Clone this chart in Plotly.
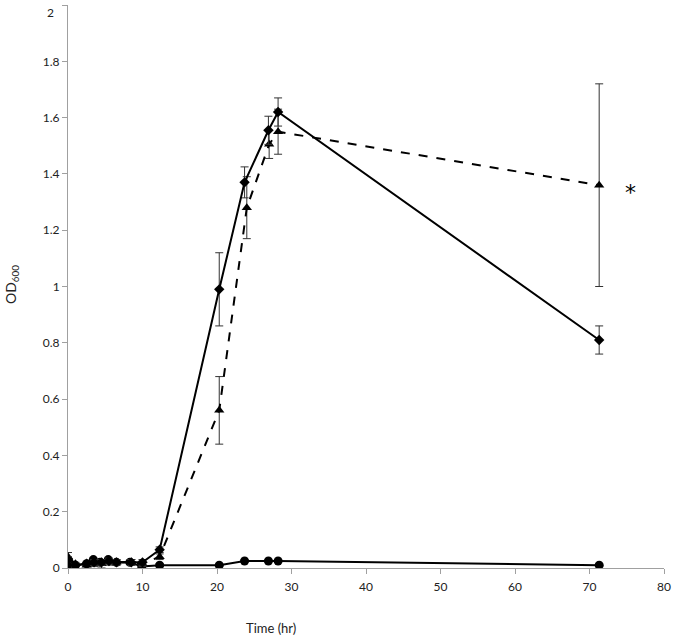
import plotly.graph_objects as go

# Series 1: solid line, diamonds
t1 = [0, 1, 2.5, 3.5, 4.5, 5.5, 6.5, 8.5, 10, 12.3, 20.3, 23.7, 26.9, 28.2, 71.3]
y1 = [0.03, 0.01, 0.015, 0.02, 0.02, 0.025, 0.02, 0.02, 0.02, 0.065, 0.99, 1.37, 1.555, 1.62, 0.81]
e1 = [0.01, 0.005, 0.005, 0.01, 0.01, 0.01, 0.01, 0.01, 0.01, 0.01, 0.13, 0.055, 0.05, 0.05, 0.05]

# Series 2: dashed line, triangles
t2 = [0, 1, 2.5, 3.5, 4.5, 5.5, 6.5, 8.5, 10, 12.3, 20.3, 24.0, 27.0, 28.2, 71.3]
y2 = [0.04, 0.015, 0.01, 0.015, 0.015, 0.02, 0.02, 0.02, 0.015, 0.04, 0.56, 1.28, 1.505, 1.55, 1.36]
e2 = [0.015, 0.005, 0.005, 0.01, 0.015, 0.01, 0.01, 0.01, 0.01, 0.01, 0.12, 0.11, 0.05, 0.08, 0.36]

# Series 3: solid line, circles
t3 = [0, 1, 2.5, 3.4, 4.3, 5.4, 6.5, 8.3, 9.9, 12.3, 20.3, 23.7, 26.9, 28.2, 71.3]
y3 = [0.01, 0.01, 0.015, 0.03, 0.02, 0.03, 0.02, 0.02, 0.005, 0.01, 0.01, 0.025, 0.025, 0.025, 0.01]
e3 = [0.005, 0.005, 0.005, 0.005, 0.005, 0.005, 0.005, 0.005, 0.005, 0.005, 0.003, 0.003, 0.003, 0.003, 0.003]

x_ticks = [0, 10, 20, 30, 40, 50, 60, 70, 80]
y_ticks = [0, 0.2, 0.4, 0.6, 0.8, 1, 1.2, 1.4, 1.6, 1.8, 2]
y_tick_text = ["0", "0.2", "0.4", "0.6", "0.8", "1", "1.2", "1.4", "1.6", "1.8", ""]
y_top_label = "2"

err_style = dict(type="data", thickness=1, width=4, color="#333333")

fig = go.Figure()
fig.add_trace(go.Scatter(x=t3, y=y3, mode="lines+markers",
                         line=dict(color="black", width=2),
                         marker=dict(symbol="circle", size=9, color="black"),
                         error_y=dict(array=e3, **err_style)))
fig.add_trace(go.Scatter(x=t2, y=y2, mode="lines+markers",
                         line=dict(color="black", width=2, dash="dash"),
                         marker=dict(symbol="triangle-up", size=9, color="black"),
                         error_y=dict(array=e2, **err_style)))
fig.add_trace(go.Scatter(x=t1, y=y1, mode="lines+markers",
                         line=dict(color="black", width=2),
                         marker=dict(symbol="diamond", size=8, color="black"),
                         error_y=dict(array=e1, **err_style)))

fig.add_annotation(x=75.5, y=1.335, text="*", showarrow=False,
                   font=dict(size=22, color="black", family="DejaVu Sans"))
fig.add_annotation(xref="paper", yref="y", x=-12 / 596, y=2, xanchor="right",
                   yanchor="top", yshift=2, text=y_top_label, showarrow=False,
                   font=dict(size=12, color="#222222", family="Lato"))
fig.add_annotation(xref="paper", yref="paper", x=(271 - 68) / 596, y=-60 / 563,
                   text="Time (hr)", showarrow=False, yanchor="middle",
                   font=dict(size=13, color="#222222", family="Lato"))
fig.add_annotation(xref="paper", yref="paper", x=-57 / 596, y=(568 - 285) / 563,
                   xanchor="center", yanchor="middle",
                   text="OD<sub>600</sub>", showarrow=False, textangle=-90,
                   font=dict(size=14, color="#222222", family="Lato"))

fig.update_layout(
    width=675, height=639,
    margin=dict(l=68, r=11, t=5, b=71),
    plot_bgcolor="white", paper_bgcolor="white",
    showlegend=False,
    font=dict(family="Lato", size=12, color="#222222"),
    xaxis=dict(range=[0, 80], tickvals=x_ticks, showgrid=False, zeroline=False,
               showline=True, linecolor="#a0a0a0", linewidth=1,
               ticks="outside", ticklen=5, tickcolor="#a0a0a0", ticklabelstandoff=3),
    yaxis=dict(range=[0, 2.0001], tickvals=y_ticks, ticktext=y_tick_text, showgrid=False,
               zeroline=False, showline=True, linecolor="#a0a0a0", linewidth=1,
               ticks="outside", ticklen=5, tickcolor="#a0a0a0"),
)

fig.write_html("out.html", config={"displayModeBar": False},
               post_script="document.body.style.margin='0';document.body.style.overflow='hidden';")
